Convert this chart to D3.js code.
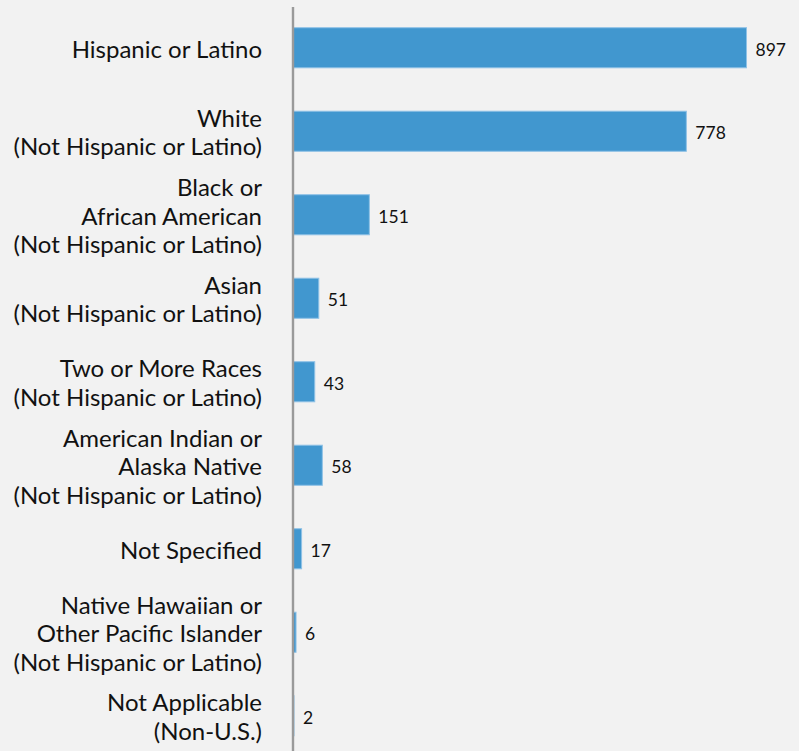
<!DOCTYPE html>
<html>
<head>
<meta charset="utf-8">
<script src="https://cdn.jsdelivr.net/npm/d3@7"></script>
<style>
  html, body { margin: 0; padding: 0; background: #f2f2f2; }
  svg { display: block; }
</style>
</head>
<body>
<svg id="chart" width="799" height="751"></svg>
<script>
const categories = [
  ["Hispanic or Latino"],
  ["White", "(Not Hispanic or Latino)"],
  ["Black or", "African American", "(Not Hispanic or Latino)"],
  ["Asian", "(Not Hispanic or Latino)"],
  ["Two or More Races", "(Not Hispanic or Latino)"],
  ["American Indian or", "Alaska Native", "(Not Hispanic or Latino)"],
  ["Not Specified"],
  ["Native Hawaiian or", "Other Pacific Islander", "(Not Hispanic or Latino)"],
  ["Not Applicable", "(Non-U.S.)"]
];
const values = [897, 778, 151, 51, 43, 58, 17, 6, 2];

const W = 799, H = 751;
const x0 = 293;
const svg = d3.select("#chart");
svg.append("rect").attr("width", W).attr("height", H).attr("fill", "#f2f2f2");

const keys = categories.map((c, i) => i);
const y = d3.scaleBand().domain(keys).range([6, 757.5]).paddingInner(0.52).paddingOuter(0.26);
const x = d3.scaleLinear().domain([0, 897]).range([x0, 746.5]);

// bars
svg.selectAll("rect.bar").data(values).enter().append("rect")
  .attr("class", "bar")
  .attr("x", x(0))
  .attr("y", (d, i) => y(i))
  .attr("width", d => x(d) - x(0))
  .attr("height", y.bandwidth())
  .attr("fill", "#4197cf")
  .attr("stroke", "#8fc2e6")
  .attr("stroke-width", 1);

// value labels
svg.selectAll("text.val").data(values).enter().append("text")
  .attr("class", "val")
  .attr("x", d => x(d) + 9)
  .attr("y", (d, i) => y(i) + y.bandwidth() / 2)
  .attr("dy", "0.45em")
  .attr("font-family", "Lato, sans-serif")
  .attr("font-size", 17.5)
  .attr("fill", "#111")
  .text(d => d);

// category labels
const lh = 28.5;
const g = svg.selectAll("text.cat").data(categories).enter().append("text")
  .attr("class", "cat")
  .attr("text-anchor", "end")
  .attr("font-family", "Lato, sans-serif")
  .attr("font-size", 24)
  .attr("fill", "#111");
g.each(function(lines, i) {
  const cy = y(i) + y.bandwidth() / 2;
  const t = d3.select(this);
  lines.forEach((ln, j) => {
    t.append("tspan")
      .attr("x", 262)
      .attr("y", cy + (j - (lines.length - 1) / 2) * lh)
      .attr("dy", "0.41em")
      .text(ln);
  });
});

// axis line
svg.append("line")
  .attr("x1", 293).attr("x2", 293)
  .attr("y1", 7).attr("y2", H)
  .attr("stroke", "#9a9a9a")
  .attr("stroke-width", 2.4);
</script>
</body>
</html>
